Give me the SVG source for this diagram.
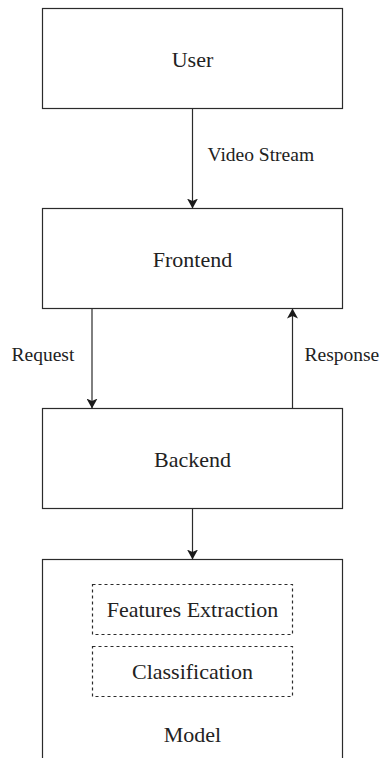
<svg xmlns="http://www.w3.org/2000/svg" width="380" height="758" viewBox="0 0 380 758">
<style>
.box{fill:#fff;stroke:#2b2b2b;stroke-width:1.2}
.dash{fill:none;stroke:#2b2b2b;stroke-width:1.2;stroke-dasharray:3 3}
.t{font-family:"Liberation Serif","Times New Roman",Tinos,"DejaVu Serif",serif;font-size:22px;fill:#222;text-anchor:middle}
.l{font-family:"Liberation Serif","Times New Roman",Tinos,"DejaVu Serif",serif;font-size:19.5px;fill:#222}
.c{stroke:#2b2b2b;stroke-width:1.2;fill:none}
</style>
<defs>
<marker id="ah" markerWidth="10" markerHeight="11" refX="10" refY="5.5" orient="auto" markerUnits="userSpaceOnUse">
<path d="M0,0 L10,5.5 L0,11 L2.5,5.5 Z" fill="#1a1a1a"/>
</marker>
</defs>
<rect width="380" height="758" fill="#fff"/>
<g id="user"><rect class="box" x="42.5" y="8.5" width="300" height="100"/><text class="t" x="192.5" y="66.5">User</text></g>
<g id="frontend"><rect class="box" x="42.5" y="208.5" width="300" height="100"/><text class="t" x="192.5" y="266.5">Frontend</text></g>
<g id="backend"><rect class="box" x="42.5" y="408.5" width="300" height="100"/><text class="t" x="192.5" y="466.5">Backend</text></g>
<g id="model"><rect class="box" x="42.5" y="559.5" width="300" height="220"/><text class="t" x="192.5" y="741.5">Model</text></g>
<g id="features"><rect class="dash" x="92.5" y="584.5" width="200" height="50"/><text class="t" x="192.5" y="616.5">Features Extraction</text></g>
<g id="classification"><rect class="dash" x="92.5" y="646.5" width="200" height="50"/><text class="t" x="192.5" y="679">Classification</text></g>
<g id="connectors">
<line class="c" x1="192.5" y1="108.5" x2="192.5" y2="208.5" marker-end="url(#ah)"/>
<line class="c" x1="92" y1="308.5" x2="92" y2="408.5" marker-end="url(#ah)"/>
<line class="c" x1="292.5" y1="408.5" x2="292.5" y2="308.5" marker-end="url(#ah)"/>
<line class="c" x1="192.5" y1="508.5" x2="192.5" y2="559.5" marker-end="url(#ah)"/>
<text class="l" x="207.5" y="160.5">Video Stream</text>
<text class="l" x="11.5" y="360.5">Request</text>
<text class="l" x="304.5" y="360.5">Response</text>
</g>
</svg>
